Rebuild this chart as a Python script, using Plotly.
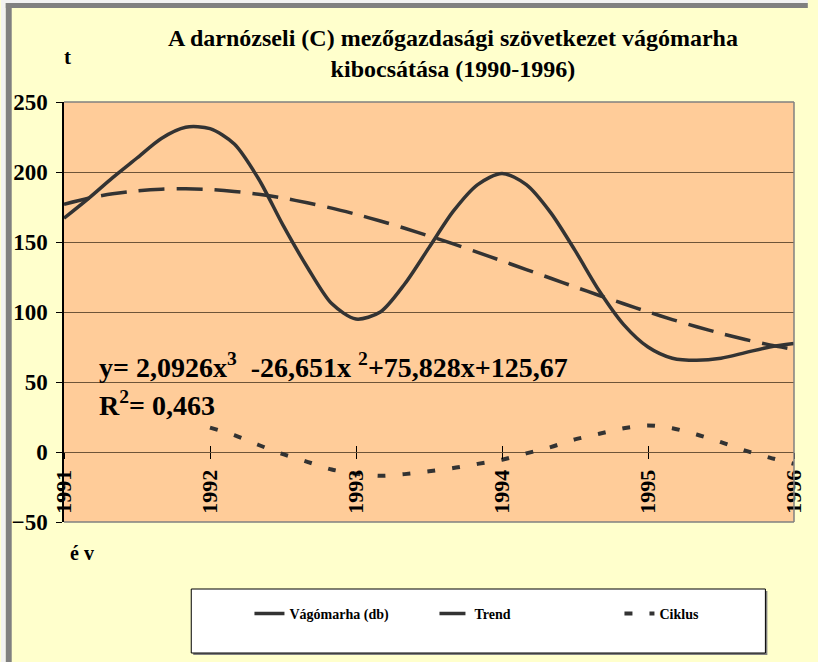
import plotly.graph_objects as go

# Time grid: two-month steps from 1991 to 1996
periods = [1991 + k / 6 for k in range(31)]

# Slaughter cattle output (head)
vagomarha = [167, 181, 196, 210, 224, 232, 231, 220, 195, 162, 132, 106, 95, 100, 120,
             146, 172, 191, 199, 191, 171, 144, 115, 91, 75, 67, 65.5, 67, 71, 75, 77.5]

# Cubic trend
trend = [176.9, 181.2, 184.4, 186.5, 187.7, 188.0, 187.5, 186.1, 184.1, 181.4, 178.0,
         174.2, 169.8, 165.0, 159.8, 154.3, 148.6, 142.6, 136.5, 130.3, 124.1, 117.9,
         111.8, 105.9, 100.1, 94.6, 89.5, 84.7, 80.4, 76.5, 73.2]

# Cyclical component (starts in 1992)
ciklus = [None, None, None, None, None, None,
          17.4, 12, 5, -1.5, -7, -12.5, -15.5, -17, -15.8, -13.8, -11.5, -8.5, -5.5,
          -1, 3.5, 9, 13, 17, 19, 17, 12.5, 7, 1, -4, -8.5]

year_ticks = [1991, 1992, 1993, 1994, 1995, 1996]
y_ticks = [-50, 0, 50, 100, 150, 200, 250]

SERIF = "Times New Roman, Liberation Serif, Tinos, DejaVu Serif, Noto Serif, serif"
INK = "#333333"

W, H = 818, 662
ML, MR, MT, MB = 64, 14, 102, 140
PW, PH = W - ML - MR, H - MT - MB


def px(x):
    return (x - ML) / PW


def py(y):
    return (H - MB - y) / PH


def bold(size):
    return dict(family=SERIF, size=size, color="#000000", weight="bold")


fig = go.Figure()
fig.add_trace(go.Scatter(x=periods, y=vagomarha, name="Vágómarha (db)", mode="lines",
                         line=dict(color=INK, width=3.5, shape="spline", smoothing=0.8)))
fig.add_trace(go.Scatter(x=periods, y=trend, name="Trend", mode="lines",
                         line=dict(color=INK, width=3.5, dash="26px,12px",
                                   shape="spline", smoothing=0.8)))
fig.add_trace(go.Scatter(x=periods, y=ciklus, name="Ciklus", mode="lines",
                         line=dict(color=INK, width=4, dash="8px,17px",
                                   shape="spline", smoothing=0.8)))
# helper trace for the upward half of the year ticks
fig.add_trace(go.Scatter(x=[year_ticks[0]], y=[0], xaxis="x2", mode="lines",
                         showlegend=False, hoverinfo="skip",
                         line=dict(color="rgba(0,0,0,0)")))

zero_pos = (0 - y_ticks[0]) / (y_ticks[-1] - y_ticks[0])

fig.update_layout(
    width=W, height=H,
    margin=dict(l=ML, r=MR, t=MT, b=MB),
    paper_bgcolor="#FFFFCC",
    plot_bgcolor="#FFCC99",
    font=dict(family=SERIF, color="#000000"),
    xaxis=dict(range=[1991, 1996], tickvals=year_ticks, ticktext=[str(v) for v in year_ticks],
               tickangle=-90, anchor="free", position=zero_pos,
               showgrid=False, zeroline=False, showline=False,
               ticks="outside", ticklen=6, tickwidth=1, tickcolor="#000000",
               ticklabelstandoff=2, tickfont=bold(22)),
    xaxis2=dict(range=[1991, 1996], tickvals=year_ticks, overlaying="x",
                anchor="free", position=zero_pos, showticklabels=False,
                showgrid=False, zeroline=False, showline=False,
                ticks="inside", ticklen=6, tickwidth=1, tickcolor="#000000"),
    yaxis=dict(range=[-50, 250], tickvals=y_ticks,
               showgrid=True, gridcolor="#6e5438", gridwidth=1,
               zeroline=True, zerolinecolor="#6e5438", zerolinewidth=1,
               showline=True, linecolor="#000000", linewidth=1.5,
               ticks="outside", ticklen=6, tickcolor="#000000",
               ticklabelstandoff=4, tickfont=bold(23)),
    showlegend=True,
    legend=dict(orientation="h", x=px(252), y=py(614), xanchor="left", yanchor="middle",
                bgcolor="rgba(0,0,0,0)", borderwidth=0,
                entrywidth=140, entrywidthmode="pixels", font=bold(14)),
)

shapes = [
    # window edge strips
    dict(type="rect", xref="paper", yref="paper", x0=px(0), x1=px(5), y0=py(H), y1=py(0),
         fillcolor="#F2F2F2", line=dict(width=0), layer="below"),
    dict(type="rect", xref="paper", yref="paper", x0=px(0), x1=px(W), y0=py(3), y1=py(0),
         fillcolor="#F2F2F2", line=dict(width=0), layer="below"),
    dict(type="rect", xref="paper", yref="paper", x0=px(5), x1=px(11), y0=py(H), y1=py(3),
         fillcolor="#808080", line=dict(width=0), layer="below"),
    dict(type="rect", xref="paper", yref="paper", x0=px(5), x1=px(W), y0=py(8), y1=py(3),
         fillcolor="#808080", line=dict(width=0), layer="below"),
    # plot frame (top, right, bottom)
    dict(type="line", xref="paper", yref="paper", x0=0, x1=1, y0=1, y1=1,
         line=dict(color="#808080", width=1.5), layer="above"),
    dict(type="line", xref="paper", yref="paper", x0=1, x1=1, y0=0, y1=1,
         line=dict(color="#808080", width=1.5), layer="above"),
    dict(type="line", xref="paper", yref="paper", x0=0, x1=1, y0=0, y1=0,
         line=dict(color="#808080", width=1.5), layer="above"),
    # legend box with shadow
    dict(type="rect", xref="paper", yref="paper", x0=px(195), x1=px(777), y0=py(655), y1=py(591),
         fillcolor="#808080", line=dict(width=0), layer="below"),
    dict(type="rect", xref="paper", yref="paper", x0=px(193), x1=px(775), y0=py(653), y1=py(589),
         fillcolor="#FFFFFF", line=dict(color="#000000", width=1), layer="below"),
]
fig.update_layout(shapes=shapes)

annotations = [
    dict(text="A darnózseli (C) mezőgazdasági szövetkezet vágómarha<br>kibocsátása (1990-1996)",
         xref="paper", yref="paper", x=px(458), y=py(54), xanchor="center", yanchor="middle",
         showarrow=False, font=bold(24)),
    dict(text="t", xref="paper", yref="paper", x=px(68), y=py(57), xanchor="center",
         yanchor="middle", showarrow=False, font=bold(21)),
    dict(text="é v", xref="paper", yref="paper", x=px(82), y=py(553), xanchor="center",
         yanchor="middle", showarrow=False, font=bold(20)),
    dict(text="y= 2,0926x<sup>3</sup>\u00a0\u00a0-26,651x\u00a0<sup>2</sup>+75,828x+125,67",
         xref="paper", yref="paper", x=px(97), y=py(365), xanchor="left", yanchor="middle",
         showarrow=False, font=bold(28)),
    dict(text="R<sup>2</sup>= 0,463",
         xref="paper", yref="paper", x=px(97), y=py(403), xanchor="left", yanchor="middle",
         showarrow=False, font=bold(28)),
]
fig.update_layout(annotations=annotations)

fig.write_html("out.html")
